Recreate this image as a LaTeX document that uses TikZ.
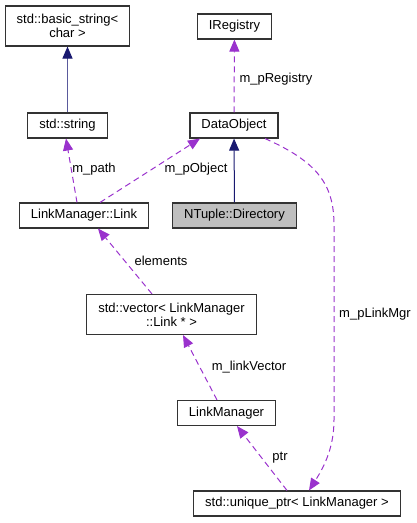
\documentclass[tikz,border=0pt]{standalone}
\usepackage{fontspec}
\setmainfont{Liberation Sans}
\usepackage{xcolor}
\usetikzlibrary{arrows.meta}
\definecolor{usecol}{HTML}{9A32CD}
\definecolor{inhcol}{HTML}{191970}
\definecolor{inhline}{HTML}{5A5A9C}
\definecolor{curcls}{HTML}{BFBFBF}

\begin{document}
\begin{tikzpicture}[x=1pt,y=-1pt,
  cls/.style={draw=black!80,line width=1.1pt,fill=white,inner xsep=11.5pt,inner ysep=2pt,
    minimum height=25pt,align=center,font=\fontsize{13}{14}\selectfont},
  lbl/.style={inner sep=0pt,font=\fontsize{13}{14}\selectfont},
  uses/.style={usecol,line width=1pt,dash pattern=on 6pt off 4pt,
    -{Triangle[length=12pt,width=10pt]}},
  inherits/.style={inhcol,line width=1pt,-{Triangle[length=12pt,width=10pt]}}]
\useasboundingbox (0,0) rectangle (416,523);

% classes
\node[cls,minimum height=40pt] (bstr) at (67.5,26) {std::basic\_string\textless\\char \textgreater};
\node[cls] (ireg) at (234.5,26.5) {IRegistry};
\node[cls] (strng) at (67.5,125.5) {std::string};
\node[cls] (dobj) at (234,125.5) {DataObject};
\node[cls] (link) at (84,215.5) {LinkManager::Link};
\node[cls,fill=curcls] (dir) at (234.5,215.5) {NTuple::Directory};
\node[cls,minimum height=40pt] (vec) at (171.5,314.5) {std::vector\textless{} LinkManager\\::Link * \textgreater};
\node[cls] (lmgr) at (226.5,413) {LinkManager};
\node[cls] (uptr) at (297,503.5) {std::unique\_ptr\textless{} LinkManager \textgreater};

% inheritance
\draw[inherits,inhline,-{Triangle[length=12pt,width=10pt,color=inhcol]}] (strng) -- (bstr);
\draw[inherits] (dir) -- (dobj);

% usage
\draw[uses] (dobj) -- (ireg);
\draw[uses] ([xshift=-7pt]link.north) -- ([xshift=-1.5pt]strng.south);
\draw[uses] ([xshift=16pt]link.north) -- ([xshift=-34pt]dobj.south);
\draw[uses] ([xshift=-19.5pt]vec.north) -- ([xshift=14pt]link.south);
\draw[uses] ([xshift=-9.5pt]lmgr.north) -- ([xshift=11.5pt]vec.south);
\draw[uses] ([xshift=-10pt]uptr.north) -- ([xshift=10.5pt]lmgr.south);
\draw[uses] ([xshift=31pt]dobj.south) .. controls (318,162) and (334,185) .. (334,225)
  -- (334,420) .. controls (334,450) and (322,470) .. ([xshift=12pt]uptr.north);

% labels
\node[lbl] (lreg) at (276,79) {m\_pRegistry};
\node[lbl] (lpath) at (94,169) {m\_path};
\node[lbl] (lobj) at (196,169) {m\_pObject};
\node[lbl] (lelem) at (161,261) {elements};
\node[lbl] (lvec) at (249,367) {m\_linkVector};
\node[lbl] (lptr) at (280,458) {ptr};
\node[lbl] (lmgrl) at (375,314) {m\_pLinkMgr};
\end{tikzpicture}
\end{document}
